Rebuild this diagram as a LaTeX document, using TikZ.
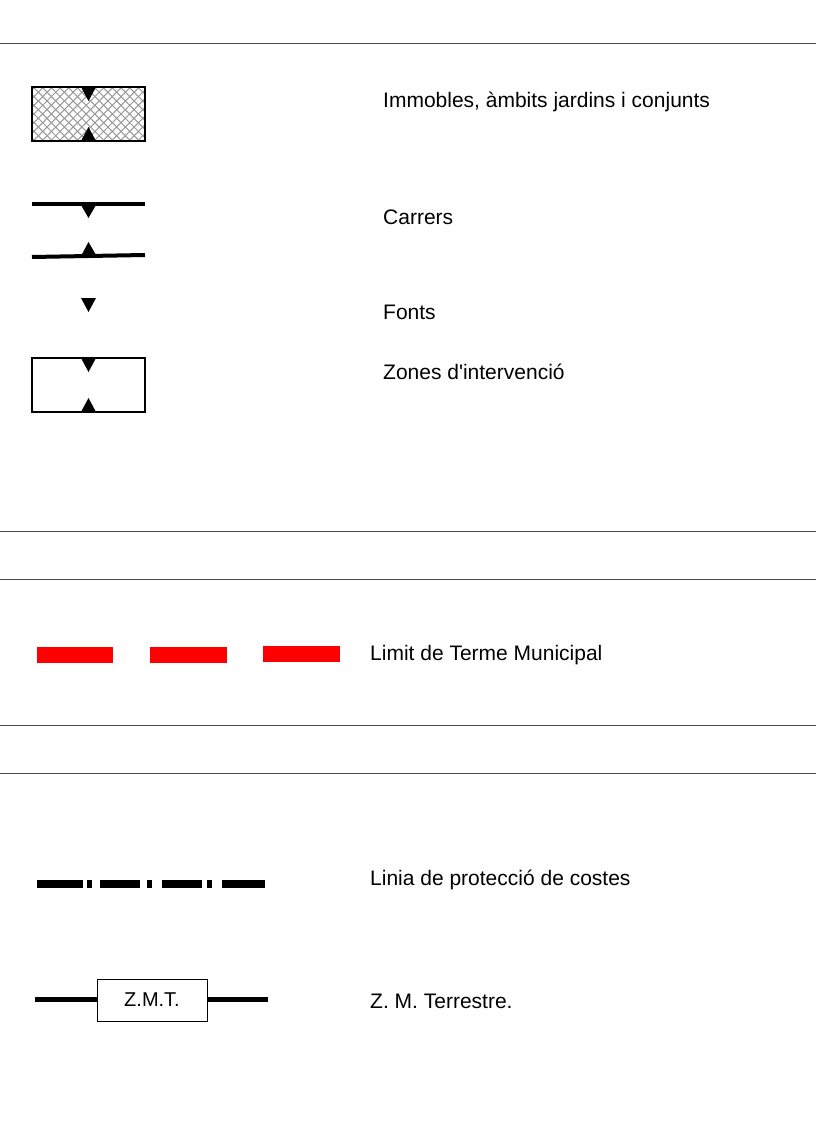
\documentclass[tikz,border=0pt]{standalone}
\usepackage{fontspec}
\setmainfont{Liberation Sans}[Ligatures=TeXOff]
\begin{document}
\begin{tikzpicture}[x=1pt,y=-1pt,
  sep/.style={draw=black!70,line width=0.8pt},
  lbl/.style={anchor=west,inner sep=0pt,font=\fontsize{21}{25}\selectfont},
  tri/.style={fill=black},
  frame/.style={draw=black,line width=1.6pt},
  thick line/.style={line width=4pt},
  red dash/.style={fill=red},
  blk/.style={fill=black}]
\useasboundingbox (0,0) rectangle (816,1123);
% separators
\foreach \yy in {43,531,579,725,773} \draw[sep] (0,\yy) -- (816,\yy);
% hatched box
\begin{scope}
\clip (32,87) rectangle (145,141);
\foreach \k in {-80,-71.3,...,200} {
  \draw[black!40,line width=1pt] (\k,87) -- ++(60,60);
  \draw[black!40,line width=1pt] (\k,141) -- ++(60,-60);
}
\end{scope}
\draw[frame] (32,87) rectangle (145,141);
\fill[tri] (81,87) -- (96,87) -- (88.5,101) -- cycle;
\fill[tri] (81,141) -- (96,141) -- (88.5,127) -- cycle;
\node[lbl] (t1) at (383,102) {Immobles, àmbits jardins i conjunts};
% carrers
\draw[thick line] (32,204) -- (145,204);
\fill[tri] (81,205) -- (96,205) -- (88.5,218) -- cycle;
\draw[thick line] (32,257) -- (145,255);
\fill[tri] (81,256) -- (96,255) -- (88.5,242) -- cycle;
\node[lbl] (t2) at (383,217) {Carrers};
% fonts
\fill[tri] (81,298) -- (96,298) -- (88.5,312) -- cycle;
\node[lbl] (t3) at (383,312) {Fonts};
% zones
\draw[frame] (32,358) rectangle (145,412);
\fill[tri] (81,358) -- (96,358) -- (88.5,372) -- cycle;
\fill[tri] (81,412) -- (96,412) -- (88.5,398) -- cycle;
\node[lbl] (t4) at (383,372) {Zones d'intervenció};
% red dashes
\fill[red dash] (37,647) rectangle (113,663);
\fill[red dash] (150,647) rectangle (227,663);
\fill[red dash] (263,646) rectangle (340,662);
\node[lbl] (t5) at (370,655) {Limit de Terme Municipal};
% coast line
\foreach \a/\b in {37/83,87/92,100/140,147/152,162/202,207/212,222/265}
  \fill[blk] (\a,880) rectangle (\b,887.5);
\node[lbl] (t6) at (370,880) {Linia de protecció de costes};
% ZMT
\node[draw=black,line width=0.6pt,minimum width=110pt,minimum height=42pt,inner sep=0pt,font=\fontsize{20}{24}\selectfont] (zmt) at (152,1000) {Z.M.T.};
\coordinate (zl) at (35,999);
\coordinate (zr) at (268,999);
\draw[line width=5pt] (zl) -- (zmt.west |- zl);
\draw[line width=5pt] (zmt.east |- zr) -- (zr);
\node[lbl] (t7) at (370,1001) {Z. M. Terrestre.};
\end{tikzpicture}
\end{document}
